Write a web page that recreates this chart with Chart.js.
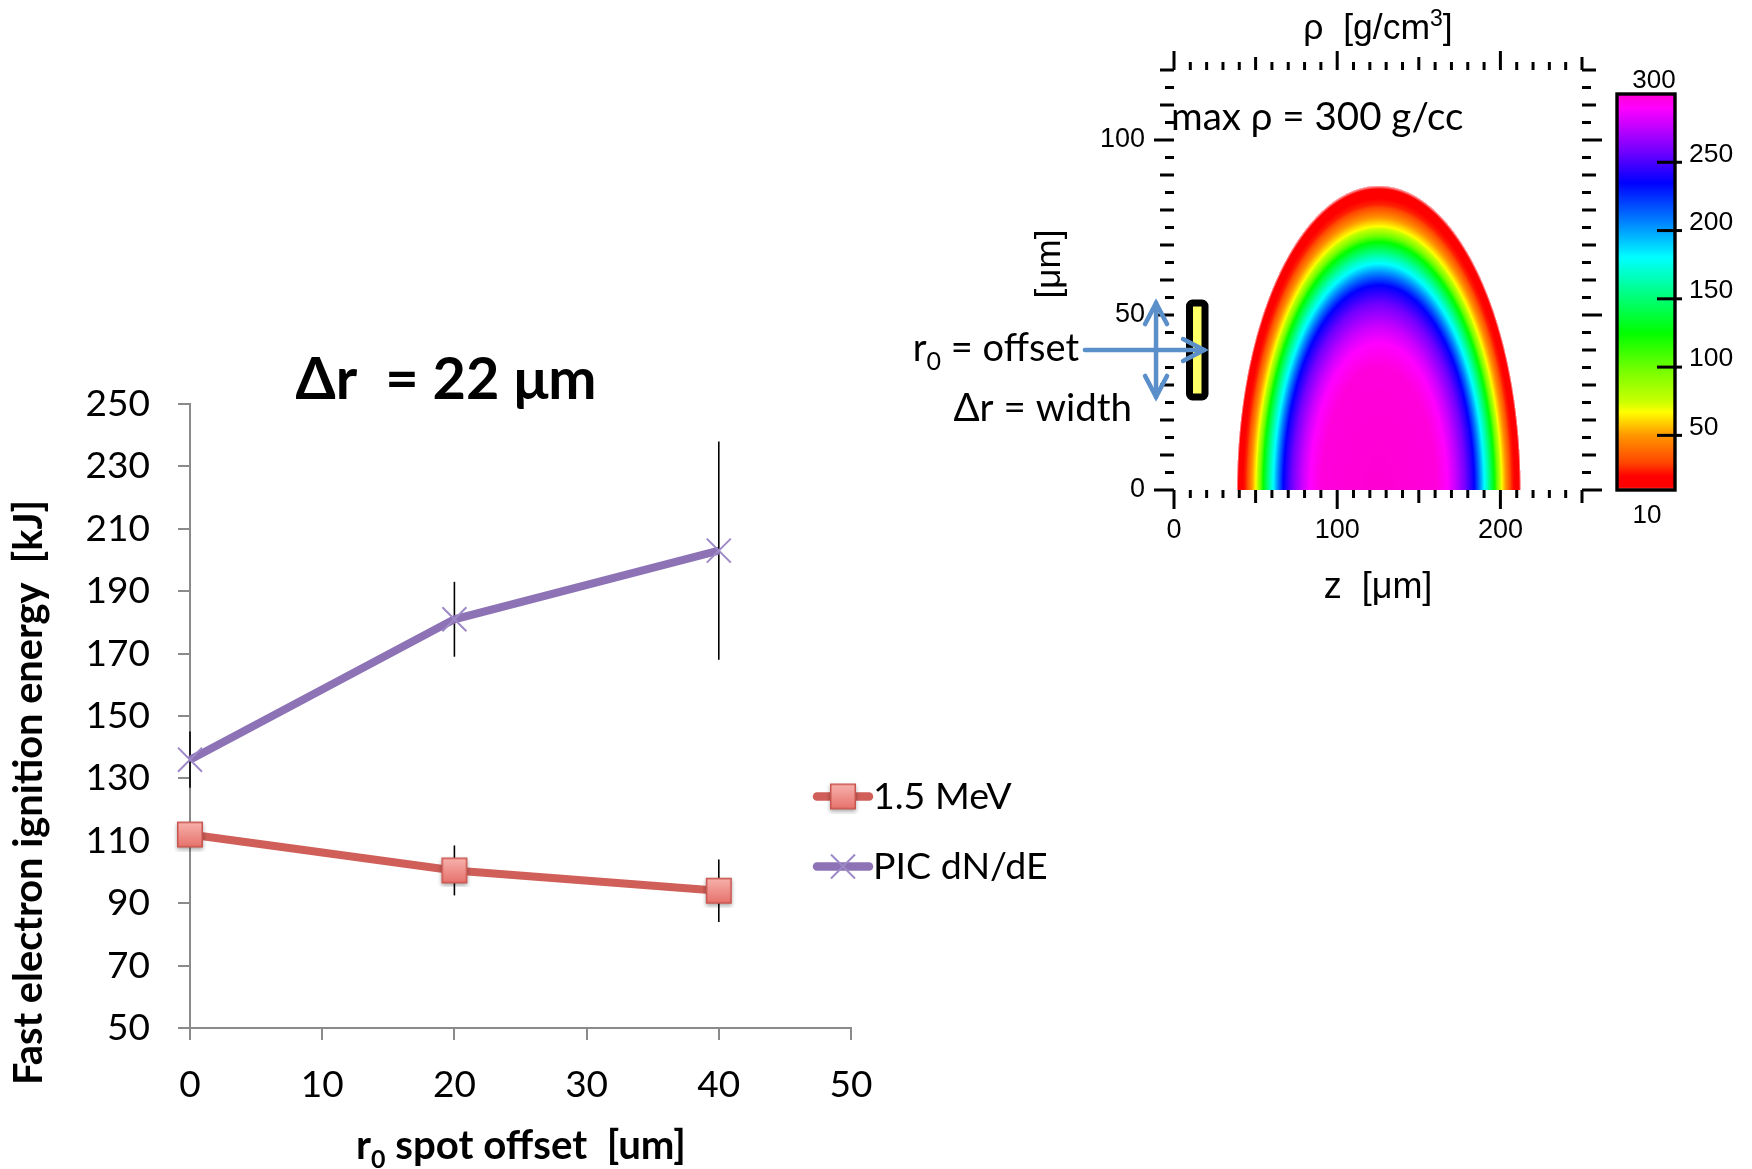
<!DOCTYPE html>
<html>
<head>
<meta charset="utf-8">
<title>Fast electron ignition energy vs spot offset</title>
<script src="https://cdn.jsdelivr.net/npm/chart.js@4.4.1/dist/chart.umd.min.js"></script>
<style>
  html, body { margin: 0; padding: 0; background: #fff; }
  #wrap { position: relative; width: 1752px; height: 1169px; overflow: hidden; }
  canvas { position: absolute; }
  #main { left: 0; top: 0; }
  #dens { left: 880px; top: 0; }
  #cbar { left: 1590px; top: 40px; }
</style>
</head>
<body>
<div id="wrap">
  <canvas id="main" width="1752" height="1169" style="width:1752px;height:1169px"></canvas>
  <canvas id="dens" width="872" height="620" style="width:872px;height:620px"></canvas>
  <canvas id="cbar" width="162" height="500" style="width:162px;height:500px"></canvas>
</div>
<script>
// ---------------- ignition energy vs spot offset ----------------
const offsets      = [0, 20, 40];          // r0 spot offset [um]
const energyMeV    = [112, 100.5, 94];     // 1.5 MeV beam [kJ]
const errMeV       = [3, 8, 10];
const energyPIC    = [136, 181, 203];      // PIC dN/dE spectrum [kJ]
const errPIC       = [9, 12, 35];
const seriesLabels = ['1.5 MeV', 'PIC dN/dE'];
const xRange = [0, 50],  xStep = 10;
const yRange = [50, 250], yStep = 20;

// ---------------- compressed core density map ----------------
// radial density profile of the core, measured from its centre on the axis
const coreRadius  = [0, 35, 42, 47, 53, 58.5, 62, 64.7, 66.6, 70.8, 72.5, 75.3, 78.5, 81.5, 86, 87];   // um
const coreDensity = [300, 298, 290, 277, 258, 235, 205, 180, 165, 125, 100, 67, 45, 25, 12, 10];       // g/cm3
const coreCentreZ = 125.5;             // um
const zRange = [0, 250], rRange = [0, 120];
const zLabels = [0, 100, 200];
const rLabels = [0, 50, 100];
// rainbow colour table of the density scale
const cmapValues  = [10, 12, 20, 30, 50, 67, 75, 97, 125, 160, 180, 200, 215, 235, 257, 277, 290, 300];
const cmapColours = [[255,200,205],[255,0,0],[255,0,0],[255,70,0],[255,150,0],[255,255,0],[200,255,0],
                     [120,255,0],[0,255,0],[0,255,160],[0,255,255],[0,160,255],[0,90,255],[0,0,255],
                     [110,0,255],[200,0,255],[255,0,255],[255,0,210]];
const cbarRange = [10, 300];
const cbarTicks = [50, 100, 150, 200, 250];
// electron spot: offset and drawn half height
const spotR0 = 40, spotHalf = 13.4, spotZ = [9.5, 19];

// ---------------- styles ----------------
const AXIS_GRAY  = '#8a8a8a';
const MEV_LINE   = '#CF5F58';
const PIC_LINE   = '#8D73B5';
const PIC_MARK   = '#9D89C7';
const ARROW_BLUE = '#5B8FCA';
const SANS = 'Lato, "Open Sans", sans-serif';
const HELV = '"Liberation Sans", Arial, sans-serif';

function lerpTable(xs, ys, v) {
  if (v <= xs[0]) return ys[0];
  for (let i = 1; i < xs.length; i++) {
    if (v <= xs[i]) { const t = (v - xs[i-1]) / (xs[i] - xs[i-1]); return ys[i-1] + t * (ys[i] - ys[i-1]); }
  }
  return ys[ys.length - 1];
}
function colourFor(v) {
  if (v <= cmapValues[0]) return cmapColours[0];
  for (let i = 1; i < cmapValues.length; i++) {
    if (v <= cmapValues[i]) {
      const t = (v - cmapValues[i-1]) / (cmapValues[i] - cmapValues[i-1]);
      const a = cmapColours[i-1], b = cmapColours[i];
      return [a[0] + t*(b[0]-a[0]), a[1] + t*(b[1]-a[1]), a[2] + t*(b[2]-a[2])];
    }
  }
  return cmapColours[cmapColours.length - 1];
}
function rgb(c) { return `rgb(${Math.round(c[0])},${Math.round(c[1])},${Math.round(c[2])})`; }

// draws a run of text pieces (for sub/superscripts) aligned at x
function drawRuns(ctx, runs, x, y, align) {
  let total = 0;
  runs.forEach(r => { ctx.font = r.font; r.w = ctx.measureText(r.text).width; total += r.w; });
  let cx = align === 'center' ? x - total / 2 : (align === 'right' ? x - total : x);
  ctx.textAlign = 'left';
  runs.forEach(r => { ctx.font = r.font; ctx.fillText(r.text, cx, y + (r.dy || 0)); cx += r.w; });
  return total;
}
function fitSize(ctx, text, weight, family, target) {
  ctx.font = `${weight} 100px ${family}`;
  return 100 * target / ctx.measureText(text).width;
}

// bevelled square marker of the 1.5 MeV series
function makeSquareMarker() {
  const c = document.createElement('canvas');
  c.width = 34; c.height = 34;
  const g = c.getContext('2d');
  g.save();
  g.shadowColor = 'rgba(0,0,0,0.35)'; g.shadowBlur = 4; g.shadowOffsetY = 2;
  const grad = g.createLinearGradient(0, 4, 0, 30);
  grad.addColorStop(0, '#F8B3AE'); grad.addColorStop(1, '#E6706A');
  g.fillStyle = grad;
  g.fillRect(4, 4, 26, 26);
  g.restore();
  g.strokeStyle = '#C9554F'; g.lineWidth = 1.5;
  g.strokeRect(4.75, 4.75, 24.5, 24.5);
  return c;
}
const squareMarker = makeSquareMarker();

// ---------------- main chart plugins ----------------
const errorBars = {
  id: 'errorBars',
  beforeDatasetsDraw(chart) {
    const { ctx, scales: { x, y } } = chart;
    ctx.save();
    ctx.strokeStyle = '#000'; ctx.lineWidth = 1.6;
    chart.data.datasets.forEach(ds => {
      ds.data.forEach((p, i) => {
        const e = ds.errors[i];
        if (!e) return;
        const px = x.getPixelForValue(p.x);
        ctx.beginPath();
        ctx.moveTo(px, y.getPixelForValue(p.y + e));
        ctx.lineTo(px, y.getPixelForValue(p.y - e));
        ctx.stroke();
      });
    });
    ctx.restore();
  }
};

const mainDecor = {
  id: 'mainDecor',
  afterDraw(chart) {
    const ctx = chart.ctx;
    ctx.save();
    ctx.fillStyle = '#000';
    ctx.textBaseline = 'alphabetic';

    // title
    const title = 'Δr  = 22 μm';
    const ts = fitSize(ctx, title, 'bold', SANS, 301);
    drawRuns(ctx, [{ text: title, font: `bold ${ts}px ${SANS}` }], 446, 399, 'center');

    // x axis title with subscript
    ctx.font = `bold 100px ${SANS}`;
    const w100 = ctx.measureText('r').width + ctx.measureText(' spot offset  [um]').width +
                 0.62 * ctx.measureText('0').width;
    const xs = 100 * 330 / w100;
    drawRuns(ctx, [
      { text: 'r', font: `bold ${xs}px ${SANS}` },
      { text: '0', font: `bold ${xs * 0.62}px ${SANS}`, dy: xs * 0.22 },
      { text: ' spot offset  [um]', font: `bold ${xs}px ${SANS}` }
    ], 521, 1159, 'center');

    // y axis title
    const yt = 'Fast electron ignition energy  [kJ]';
    const ys = fitSize(ctx, yt, 'bold', SANS, 585);
    ctx.save();
    ctx.translate(42, 792.5);
    ctx.rotate(-Math.PI / 2);
    ctx.font = `bold ${ys}px ${SANS}`;
    ctx.textAlign = 'center';
    ctx.fillText(yt, 0, 0);
    ctx.restore();

    // legend
    const rows = [796.5, 866.5];
    chart.data.datasets.forEach((ds, i) => {
      const yy = rows[i];
      ctx.save();
      ctx.strokeStyle = ds.borderColor; ctx.lineWidth = 8.5; ctx.lineCap = 'round';
      ctx.beginPath(); ctx.moveTo(817, yy); ctx.lineTo(869, yy); ctx.stroke();
      ctx.restore();
      if (ds.pointStyle === squareMarker) {
        ctx.drawImage(squareMarker, 843 - 17, yy - 17);
      } else {
        ctx.save();
        ctx.strokeStyle = ds.pointBorderColor; ctx.fillStyle = 'rgba(0,0,0,0)';
        ctx.lineWidth = ds.pointBorderWidth;
        Chart.helpers.drawPoint(ctx, { pointStyle: 'crossRot', rotation: 0, radius: ds.pointRadius, borderWidth: ds.pointBorderWidth }, 843, yy);
        ctx.restore();
      }
      ctx.font = `37.5px ${SANS}`;
      ctx.textAlign = 'left'; ctx.textBaseline = 'middle';
      ctx.fillText(ds.label, 873, yy);
      ctx.textBaseline = 'alphabetic';
    });
    ctx.restore();
  }
};

new Chart(document.getElementById('main'), {
  type: 'line',
  data: {
    datasets: [
      {
        label: seriesLabels[0],
        data: offsets.map((x, i) => ({ x, y: energyMeV[i] })),
        errors: errMeV,
        borderColor: MEV_LINE, borderWidth: 8,
        pointStyle: squareMarker, pointRadius: 13,
        clip: false, tension: 0
      },
      {
        label: seriesLabels[1],
        data: offsets.map((x, i) => ({ x, y: energyPIC[i] })),
        errors: errPIC,
        borderColor: PIC_LINE, borderWidth: 8,
        pointStyle: 'crossRot', pointRadius: 17,
        pointBorderColor: PIC_MARK, pointBorderWidth: 2,
        pointBackgroundColor: 'rgba(0,0,0,0)',
        clip: false, tension: 0
      }
    ]
  },
  options: {
    responsive: false, animation: false, devicePixelRatio: 1,
    layout: { padding: { top: 404, right: 901, left: 0, bottom: 0 } },
    plugins: { legend: { display: false }, tooltip: { enabled: false }, title: { display: false } },
    scales: {
      x: {
        type: 'linear', min: xRange[0], max: xRange[1],
        ticks: { stepSize: xStep, color: '#000', font: { family: SANS, size: 37 }, padding: 23 },
        grid: { drawOnChartArea: false, drawTicks: true, tickLength: 12, color: AXIS_GRAY, lineWidth: 2 },
        border: { display: true, color: AXIS_GRAY, width: 2 },
        afterFit(s) { s.height = 141; }
      },
      y: {
        type: 'linear', min: yRange[0], max: yRange[1],
        ticks: { stepSize: yStep, color: '#000', font: { family: SANS, size: 37 }, padding: 28 },
        grid: { drawOnChartArea: false, drawTicks: true, tickLength: 12, color: AXIS_GRAY, lineWidth: 2 },
        border: { display: true, color: AXIS_GRAY, width: 2 },
        afterFit(s) { s.width = 190; }
      }
    }
  },
  plugins: [errorBars, mainDecor]
});

// ---------------- density map ----------------
function arrow(ctx, x1, y1, x2, y2, both) {
  const head = (tx, ty, fx, fy) => {
    const a = Math.atan2(ty - fy, tx - fx), L = 21, W = 11;
    const bx = tx - L * Math.cos(a), by = ty - L * Math.sin(a);
    ctx.beginPath();
    ctx.moveTo(bx + W * Math.sin(a), by - W * Math.cos(a));
    ctx.lineTo(tx, ty);
    ctx.lineTo(bx - W * Math.sin(a), by + W * Math.cos(a));
    ctx.stroke();
  };
  ctx.beginPath(); ctx.moveTo(x1, y1); ctx.lineTo(x2, y2); ctx.stroke();
  head(x2, y2, x1, y1);
  if (both) head(x1, y1, x2, y2);
}

const densityMap = {
  id: 'densityMap',
  beforeDatasetsDraw(chart) {
    const { ctx, chartArea: a, scales: { x, y } } = chart;
    const w = Math.round(a.right - a.left), h = Math.round(a.bottom - a.top);
    const off = document.createElement('canvas');
    off.width = w; off.height = h;
    const octx = off.getContext('2d');
    const img = octx.createImageData(w, h);
    const rMax = coreRadius[coreRadius.length - 1];
    for (let j = 0; j < h; j++) {
      const r = y.getValueForPixel(a.top + j + 0.5);
      if (r < 0) continue;
      for (let i = 0; i < w; i++) {
        const z = x.getValueForPixel(a.left + i + 0.5);
        const R = Math.hypot(z - coreCentreZ, r);
        if (R > rMax) continue;
        const c = colourFor(lerpTable(coreRadius, coreDensity, R));
        const k = (j * w + i) * 4;
        img.data[k] = c[0]; img.data[k + 1] = c[1]; img.data[k + 2] = c[2]; img.data[k + 3] = 255;
      }
    }
    octx.putImageData(img, 0, 0);
    ctx.drawImage(off, a.left, a.top);
  },
  afterDraw(chart) {
    const { ctx, chartArea: a, scales: { x, y } } = chart;
    ctx.save();
    // frame ticks
    ctx.strokeStyle = '#000'; ctx.lineWidth = 3; ctx.lineCap = 'butt';
    const seg = (x1, y1, x2, y2) => { ctx.beginPath(); ctx.moveTo(x1, y1); ctx.lineTo(x2, y2); ctx.stroke(); };
    for (let z = zRange[0]; z <= zRange[1]; z += 10) {
      const px = x.getPixelForValue(z);
      const len = z % 100 === 0 ? 19 : (z % 50 === 0 ? 13 : 8);
      seg(px, a.bottom, px, a.bottom + len);
      seg(px, a.top, px, a.top - len);
    }
    for (let r = rRange[0]; r <= rRange[1]; r += 5) {
      const py = y.getPixelForValue(r);
      const len = r % 50 === 0 ? 20 : (r % 10 === 0 ? 14 : 9);
      seg(a.left - len, py, a.left, py);
      seg(a.right, py, a.right + len, py);
    }

    // electron spot
    const sx1 = x.getPixelForValue(spotZ[0]), sx2 = x.getPixelForValue(spotZ[1]);
    const sy1 = y.getPixelForValue(spotR0 + spotHalf), sy2 = y.getPixelForValue(spotR0 - spotHalf);
    ctx.beginPath();
    ctx.roundRect(sx1, sy1, sx2 - sx1, sy2 - sy1, 3);
    ctx.fillStyle = '#FFFF66'; ctx.fill();
    ctx.lineWidth = 7; ctx.strokeStyle = '#000'; ctx.lineJoin = 'round'; ctx.stroke();

    // offset and width arrows
    ctx.strokeStyle = ARROW_BLUE; ctx.lineWidth = 4.5; ctx.lineCap = 'round'; ctx.lineJoin = 'miter';
    const ay = y.getPixelForValue(spotR0);
    arrow(ctx, x.getPixelForValue(-54.6), ay, x.getPixelForValue(18.4), ay, false);
    const vx = x.getPixelForValue(-11);
    arrow(ctx, vx, y.getPixelForValue(spotR0 + 13.4), vx, y.getPixelForValue(spotR0 - 13.4), true);

    // labels
    ctx.fillStyle = '#000';
    ctx.textBaseline = 'alphabetic';
    drawRuns(ctx, [
      { text: 'ρ  [g/cm', font: `35.5px ${HELV}` },
      { text: '3', font: `23px ${HELV}`, dy: -13 },
      { text: ']', font: `35.5px ${HELV}` }
    ], 498, 39, 'center');
    drawRuns(ctx, [{ text: 'z  [μm]', font: `36px ${HELV}` }], 498, 598, 'center');
    ctx.save();
    ctx.translate(180, 264);
    ctx.rotate(-Math.PI / 2);
    ctx.font = `35px ${HELV}`; ctx.textAlign = 'center';
    ctx.fillText('[μm]', 0, 0);
    ctx.restore();

    drawRuns(ctx, [{ text: 'max ρ = ' + cbarRange[1] + ' g/cc', font: `38.5px ${SANS}` }], 291, 130, 'left');
    drawRuns(ctx, [
      { text: 'r', font: `38px ${SANS}` },
      { text: '0', font: `25px ${SANS}`, dy: 9 },
      { text: ' = offset', font: `38px ${SANS}` }
    ], 199, 361, 'right');
    drawRuns(ctx, [{ text: 'Δr = width', font: `38.5px ${SANS}` }], 252, 421, 'right');
    ctx.restore();
  }
};

new Chart(document.getElementById('dens'), {
  type: 'scatter',
  data: { datasets: [] },
  options: {
    responsive: false, animation: false, devicePixelRatio: 1,
    layout: { padding: { top: 70, right: 170, left: 0, bottom: 0 } },
    plugins: { legend: { display: false }, tooltip: { enabled: false } },
    scales: {
      x: {
        type: 'linear', min: zRange[0], max: zRange[1],
        afterBuildTicks(s) { s.ticks = zLabels.map(v => ({ value: v })); },
        ticks: { color: '#000', font: { family: HELV, size: 27 }, padding: 24 },
        grid: { display: false, drawTicks: false },
        border: { display: false },
        afterFit(s) { s.height = 130; }
      },
      y: {
        type: 'linear', min: rRange[0], max: rRange[1],
        afterBuildTicks(s) { s.ticks = rLabels.map(v => ({ value: v })); },
        ticks: { color: '#000', font: { family: HELV, size: 27 }, padding: 29 },
        grid: { display: false, drawTicks: false },
        border: { display: false },
        afterFit(s) { s.width = 294; }
      }
    }
  },
  plugins: [densityMap]
});

// ---------------- colour bar ----------------
const cbarDecor = {
  id: 'cbarDecor',
  afterDraw(chart) {
    const { ctx, chartArea: a, scales: { y } } = chart;
    ctx.save();
    ctx.strokeStyle = '#000'; ctx.lineWidth = 3.4;
    ctx.strokeRect(a.left, a.top, a.right - a.left, a.bottom - a.top);
    ctx.lineWidth = 3;
    cbarTicks.forEach(v => {
      const py = y.getPixelForValue(v);
      ctx.beginPath(); ctx.moveTo(a.right - 18, py); ctx.lineTo(a.right + 7, py); ctx.stroke();
    });
    ctx.fillStyle = '#000';
    ctx.font = `26px ${HELV}`;
    ctx.textAlign = 'center'; ctx.textBaseline = 'alphabetic';
    ctx.fillText(String(cbarRange[1]), 64, 48);
    ctx.fillText(String(cbarRange[0]), 57, 483);
    ctx.restore();
  }
};

new Chart(document.getElementById('cbar'), {
  type: 'bar',
  data: {
    labels: ['ρ'],
    datasets: [{
      data: [cbarRange],
      borderWidth: 0,
      barPercentage: 1, categoryPercentage: 1,
      backgroundColor(context) {
        const chart = context.chart;
        if (!chart.chartArea) return 'rgba(0,0,0,0)';
        const ys = chart.scales.y;
        const g = chart.ctx.createLinearGradient(0, ys.getPixelForValue(cbarRange[0]), 0, ys.getPixelForValue(cbarRange[1]));
        cmapValues.forEach((v, i) => g.addColorStop((v - cbarRange[0]) / (cbarRange[1] - cbarRange[0]), rgb(cmapColours[i])));
        return g;
      }
    }]
  },
  options: {
    responsive: false, animation: false, devicePixelRatio: 1,
    layout: { padding: { top: 54, left: 27, bottom: 50, right: 0 } },
    plugins: { legend: { display: false }, tooltip: { enabled: false } },
    scales: {
      x: { display: false },
      y: {
        position: 'right', min: cbarRange[0], max: cbarRange[1],
        afterBuildTicks(s) { s.ticks = cbarTicks.map(v => ({ value: v })); },
        ticks: { color: '#000', font: { family: HELV, size: 26.5 }, padding: 14, labelOffset: -8 },
        grid: { display: false, drawTicks: false },
        border: { display: false },
        afterFit(s) { s.width = 77; }
      }
    }
  },
  plugins: [cbarDecor]
});
</script>
</body>
</html>
